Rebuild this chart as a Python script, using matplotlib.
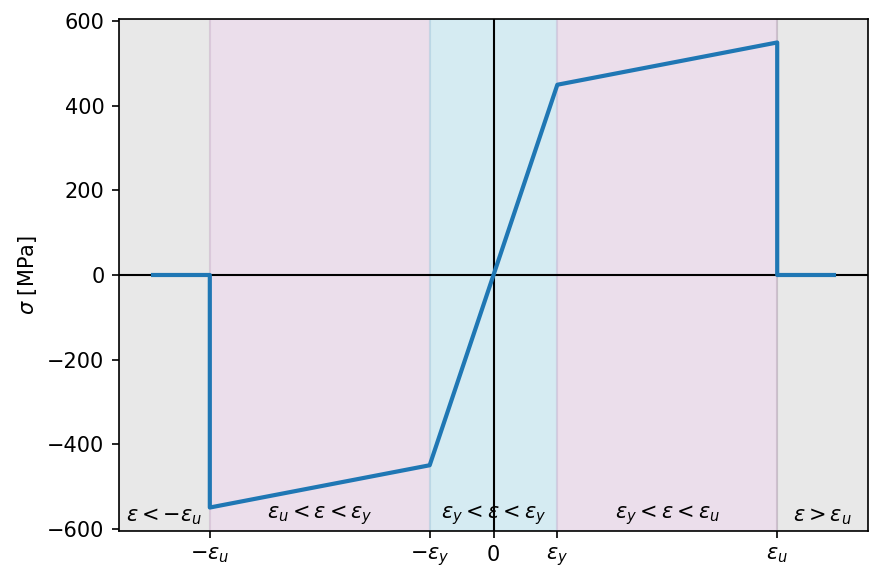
import matplotlib
matplotlib.use("Agg")
import matplotlib.pyplot as plt

# steel material, bilinear with ultimate strain
E = 200000.0
fy = 450.0
fu = 550.0
eps_y = fy / E
eps_u = 0.01

strain = [-1.2 * eps_u, -eps_u, -eps_u, -eps_y, 0.0, eps_y, eps_u, eps_u, 1.2 * eps_u]
stress = [0.0, 0.0, -fu, -fy, 0.0, fy, fu, 0.0, 0.0]

tick_pos = [-eps_u, -eps_y, 0.0, eps_y, eps_u]
tick_labels = [r"$-\varepsilon_u$", r"$-\varepsilon_y$", "0", r"$\varepsilon_y$", r"$\varepsilon_u$"]

region_labels = [r"$\varepsilon < -\varepsilon_u$", r"$\varepsilon_u < \varepsilon < \varepsilon_y$",
                 r"$\varepsilon_y < \varepsilon < \varepsilon_y$", r"$\varepsilon_y < \varepsilon < \varepsilon_u$",
                 r"$\varepsilon > \varepsilon_u$"]

fig, ax = plt.subplots(figsize=(883 / 150, 582 / 150), dpi=150)
fig.subplots_adjust(left=0.1348, right=0.983, top=0.967, bottom=0.088)
ax.plot(strain, stress, lw=2, color="tab:blue", zorder=3)
ax.axhline(0, color="k", lw=1, zorder=2)
ax.axvline(0, color="k", lw=1, zorder=2)

xmin, xmax = ax.get_xlim()
ax.axvspan(xmin, -eps_u, color="grey", alpha=0.18, zorder=0)
ax.axvspan(-eps_u, -eps_y, color="thistle", alpha=0.5, zorder=0)
ax.axvspan(-eps_y, eps_y, color="lightblue", alpha=0.5, zorder=0)
ax.axvspan(eps_y, eps_u, color="thistle", alpha=0.5, zorder=0)
ax.axvspan(eps_u, xmax, color="grey", alpha=0.18, zorder=0)
ax.set_xlim(xmin, xmax)

ymin = ax.get_ylim()[0]
centers = [(xmin - eps_u) / 2, (-eps_u - eps_y) / 2, 0.0, (eps_y + eps_u) / 2, (eps_u + xmax) / 2]
for c, lab in zip(centers, region_labels):
    ax.text(c, ymin + 8, lab, ha="center", va="bottom", fontsize=10)

ax.set_xticks(tick_pos)
ax.set_xticklabels(tick_labels)
ax.set_ylabel(r"$\sigma$ [MPa]")

fig.savefig("out.png", dpi=150)
